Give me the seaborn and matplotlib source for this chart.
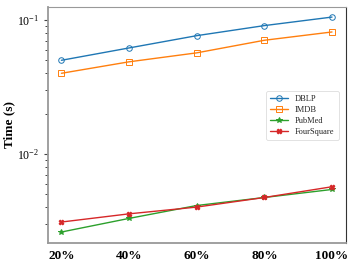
import numpy as np
import pandas as pd
import matplotlib
matplotlib.use("Agg")
import matplotlib.pyplot as plt
from matplotlib.ticker import LogLocator, NullFormatter
import seaborn as sns

fractions = [20, 40, 60, 80, 100]
tick_labels = ["20%", "40%", "60%", "80%", "100%"]
dblp = [0.050, 0.0618, 0.0763, 0.0907, 0.105]
imdb = [0.040, 0.0487, 0.0568, 0.0705, 0.0813]
pubmed = [0.00262, 0.00331, 0.00413, 0.00474, 0.00544]
foursquare = [0.00311, 0.00358, 0.00402, 0.00474, 0.0057]

sns.set_style("ticks")
plt.rcParams['font.family'] = ['Liberation Serif', 'DejaVu Serif']
plt.rcParams['mathtext.fontset'] = 'stix'

fig = plt.figure(figsize=(3.54, 2.66), dpi=100)
ax = fig.add_axes([0.136, 0.0865, 0.841, 0.8875])

series = [
    ("DBLP", dblp, "#1f77b4", "o", "none", 4),
    ("IMDB", imdb, "#ff7f0e", "s", "none", 4),
    ("PubMed", pubmed, "#2ca02c", "*", None, 4),
    ("FourSquare", foursquare, "#d62728", "X", None, 3.5),
]
for name, vals, col, mk, mfc, ms in series:
    df = pd.DataFrame({"x": fractions, "y": vals})
    face = mfc if mfc else col
    sns.lineplot(data=df, x="x", y="y", ax=ax, color=col, marker=mk,
                 markersize=ms, markeredgecolor=col, markeredgewidth=0.7,
                 markerfacecolor=face, linewidth=1.0, label=name)

ax.set_yscale("log")
ax.set_ylim(0.00217, 0.125)
ax.set_xlim(16.07, 104.1)
ax.yaxis.set_minor_locator(LogLocator(base=10, subs=np.arange(2, 10), numticks=12))
ax.yaxis.set_minor_formatter(NullFormatter())
ax.set_xticks(fractions)
ax.set_xticklabels(tick_labels, fontsize=9.5, fontweight="bold", color="black")
ax.tick_params(axis="y", which="major", labelsize=8.5, length=3, width=0.8,
               color="#444444", labelcolor="black", left=True)
ax.tick_params(axis="y", which="minor", length=2.5, width=0.7, color="#444444", left=True)
ax.tick_params(axis="x", length=0, pad=5)
ax.set_xlabel("")
ax.set_ylabel("Time (s)", fontsize=9.5, fontweight="bold", color="black")
ax.yaxis.set_label_coords(-0.11, 0.5)
for s in ax.spines.values():
    s.set_color("#999999")
    s.set_linewidth(1.3)
ax.spines["right"].set_color("#333333")
ax.spines["right"].set_linewidth(0.8)
ax.spines["top"].set_linewidth(0.8)

leg = ax.legend(loc="center right", bbox_to_anchor=(0.99, 0.54), fontsize=6,
                frameon=True, handlelength=2.2, borderpad=0.5, labelspacing=0.35)
leg.get_frame().set_linewidth(0.5)

fig.savefig("out.png", dpi=100)
